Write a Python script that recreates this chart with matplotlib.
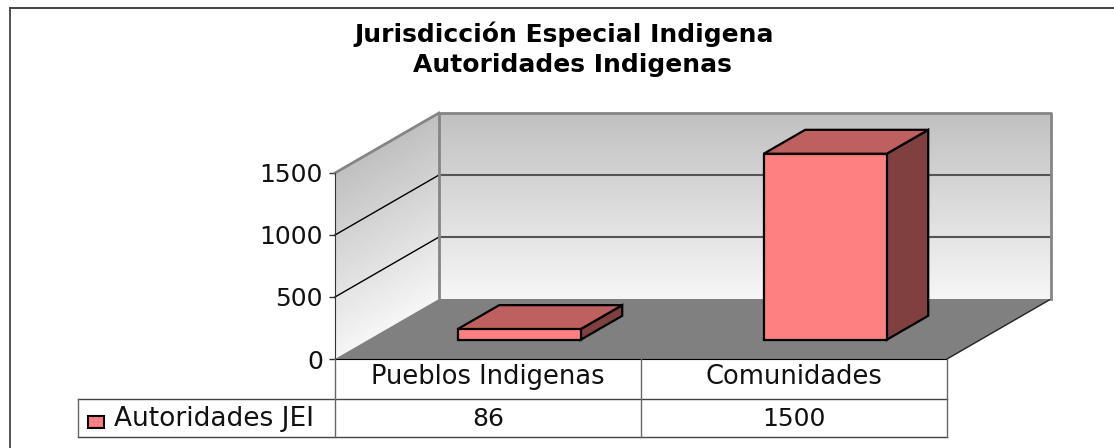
import numpy as np
import matplotlib.pyplot as plt
from matplotlib.patches import Polygon, Rectangle
from matplotlib.lines import Line2D

plt.rcParams['font.family'] = ['DejaVu Sans']

categories = ['Pueblos Indigenas', 'Comunidades']
values = [86, 1500]
series_name = 'Autoridades JEI'
y_ticks = [0, 500, 1000, 1500]
title_lines = ['Jurisdicción Especial Indigena', 'Autoridades Indigenas']

W, H = 1114, 448
FRONT_COLOR = '#ff8080'
TOP_COLOR = '#bf6060'
SIDE_COLOR = '#804040'

# plot box in pixels: front plane of the fake 3d chart
left_px, right_px, top_px, bottom_px = 335, 947, 173, 359

fig = plt.figure(figsize=(W / 100, H / 100), dpi=100, facecolor='white')
ax = fig.add_axes([left_px / W, 1 - bottom_px / H,
                   (right_px - left_px) / W, (bottom_px - top_px) / H])
ax.set_xlim(0, len(categories))
ax.set_ylim(0, 1500)
ax.patch.set_visible(False)

# depth of the floor, in data units
depth_x = 104 / ((right_px - left_px) / len(categories))
depth_y = 60 / ((bottom_px - top_px) / 1500)


def proj(x, v, d):
    return x + d * depth_x, v + d * depth_y


def poly(pts, **kw):
    p = Polygon(pts, closed=True, clip_on=False, **kw)
    ax.add_patch(p)
    return p


# walls with gradient
xmax = len(categories)
n = 40
t = np.linspace(0, 1, n)
shade = 0.96 - 0.21 * t[:-1]
shade = np.tile(shade[:, None], (1, 1))
vs = 1500 * t
X = np.array([[0, depth_x]] * n)
Y = np.column_stack([vs, vs + depth_y])
ax.pcolormesh(X, Y, shade, cmap='gray', vmin=0, vmax=1, clip_on=False, zorder=1)
X = np.array([[depth_x, xmax + depth_x]] * n)
Y = np.column_stack([vs + depth_y, vs + depth_y])
ax.pcolormesh(X, Y, shade, cmap='gray', vmin=0, vmax=1, clip_on=False, zorder=1)

# floor
poly([proj(0, 0, 0), proj(xmax, 0, 0), proj(xmax, 0, 1), proj(0, 0, 1)],
     fc='#808080', ec='none', zorder=2)
ax.plot(*zip(proj(xmax, 0, 0), proj(xmax, 0, 1)), color='#222222', lw=1, clip_on=False, zorder=3)

# gridlines
for v in y_ticks[1:-1]:
    ax.plot(*zip(proj(0, v, 0), proj(0, v, 1)), color='black', lw=1, clip_on=False, zorder=3)
    ax.plot(*zip(proj(0, v, 1), proj(xmax, v, 1)), color='#555555', lw=1.5, clip_on=False, zorder=3)

# wall borders
grey = '#858585'
ax.plot(*zip(proj(0, 0, 1), proj(0, 1500, 1), proj(xmax, 1500, 1), proj(xmax, 0, 1)),
        color=grey, lw=2, clip_on=False, zorder=3)
ax.plot(*zip(proj(0, 1500, 0), proj(0, 1500, 1)), color=grey, lw=2, clip_on=False, zorder=3)

# bars
bar_w = 123 / ((right_px - left_px) / len(categories))
d0, d1 = 0.32, 0.72
for i, val in enumerate(values):
    x0 = i + 0.5 - bar_w / 2 - 0.007
    x1 = x0 + bar_w
    poly([proj(x1, 0, d0), proj(x1, 0, d1), proj(x1, val, d1), proj(x1, val, d0)],
         fc=SIDE_COLOR, ec='black', lw=1.6, zorder=5, joinstyle='miter')
    poly([proj(x0, val, d0), proj(x1, val, d0), proj(x1, val, d1), proj(x0, val, d1)],
         fc=TOP_COLOR, ec='black', lw=1.6, zorder=5, joinstyle='miter')
    poly([proj(x0, 0, d0), proj(x1, 0, d0), proj(x1, val, d0), proj(x0, val, d0)],
         fc=FRONT_COLOR, ec='black', lw=1.6, zorder=6, joinstyle='miter')

# axis
for s in ['top', 'right']:
    ax.spines[s].set_visible(False)
ax.spines['left'].set_color('#333333')
ax.spines['bottom'].set_color('black')
ax.spines['left'].set_zorder(7)
ax.spines['bottom'].set_zorder(7)
ax.set_xticks([])
ax.set_yticks(y_ticks)
ax.tick_params(axis='y', length=4.3, width=1, color='#333333', pad=4.3, labelsize=18, labelcolor='#111111')


def hline(x0, x1, y, c='#444444', lw=1):
    fig.add_artist(Line2D([x0 / W, x1 / W], [1 - y / H, 1 - y / H], color=c, lw=lw))


def vline(x, y0, y1, c='#666666', lw=1):
    fig.add_artist(Line2D([x / W, x / W], [1 - y0 / H, 1 - y1 / H], color=c, lw=lw))


# outer frame, only top and left show in the reference
hline(10, W, 8, c='#333333', lw=1.3)
vline(10, 8, H, c='#444444', lw=1.3)

# data table below the axis
table_left, row1, row2 = 78, 399, 437
hline(table_left, right_px, row1)
hline(table_left, right_px, row2)
vline(table_left, row1, row2)
vline(left_px, bottom_px, row2)
vline((left_px + right_px) / 2, bottom_px, row2)
vline(right_px, bottom_px, row2)

col_w = (right_px - left_px) / len(categories)
for i, (cat, val) in enumerate(zip(categories, values)):
    xc = (left_px + col_w * (i + 0.5)) / W
    fig.text(xc, 1 - 377 / H, cat, ha='center', va='center', fontsize=18.5, color='#111111')
    fig.text(xc, 1 - 419 / H, str(val), ha='center', va='center', fontsize=18, color='#111111')

fig.add_artist(Rectangle((88 / W, 1 - 428 / H), 16 / W, 12 / H, transform=fig.transFigure,
                         fc=FRONT_COLOR, ec='black', lw=1.5))
fig.text(114 / W, 1 - 419 / H, series_name, ha='left', va='center', fontsize=19, color='#111111')

fig.text(564 / W, 1 - 34 / H, title_lines[0], ha='center', va='center', fontsize=18, fontweight='bold')
fig.text(572 / W, 1 - 65 / H, title_lines[1], ha='center', va='center', fontsize=18, fontweight='bold')

fig.savefig('out.png', dpi=100)
